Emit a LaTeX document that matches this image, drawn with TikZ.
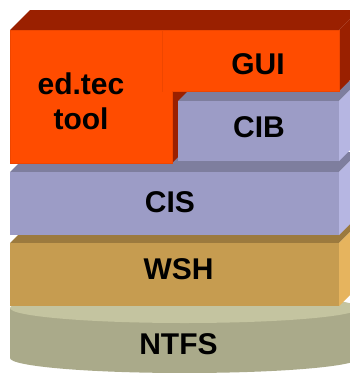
\documentclass[tikz,border=0pt]{standalone}
\usepackage{fontspec}
\setmainfont{Liberation Sans}
\definecolor{orangefront}{HTML}{FF4C00}
\definecolor{orangeedge}{HTML}{EE4600}
\definecolor{redback}{HTML}{9A2000}
\definecolor{lavfront}{HTML}{9C9CC6}
\definecolor{lavtop}{HTML}{7E7E9E}
\definecolor{lavside}{HTML}{B6B6E2}
\definecolor{tanfront}{HTML}{C69C50}
\definecolor{tantop}{HTML}{9C7A3E}
\definecolor{tanside}{HTML}{E6B45E}
\definecolor{diskcap}{HTML}{C4C4A0}
\definecolor{diskmid}{HTML}{9C9C7E}
\definecolor{diskend}{HTML}{AAAA8A}
\tikzset{
  label/.style={font=\fontsize{30}{36}\selectfont\bfseries, text=black, anchor=base, inner sep=0pt},
  orangeface/.style={fill=orangefront, draw=orangeedge, line width=0.6pt},
}
\begin{document}
\begin{tikzpicture}[x=1pt, y=-1pt]
\useasboundingbox (0,0) rectangle (350,373);
\clip (0,0) rectangle (350,373);
\fill[white] (0,0) rectangle (350,373);

% NTFS disk: shaded body, then the lighter top cap
\shade[left color=diskend, middle color=diskmid, right color=diskend]
  (10,308) -- (10,358) arc[start angle=180, end angle=360, x radius=174.5pt, y radius=15pt]
  -- (359,308) -- cycle;
\fill[diskcap] (184.5,308) ellipse[x radius=174.5pt, y radius=15pt];

% WSH slab
\fill[tantop] (10,243) -- (339,243) -- (359,223) -- (30,223) -- cycle;
\fill[tanside] (339,243) -- (359,223) -- (359,286) -- (339,306) -- cycle;
\fill[tanfront] (10,243) rectangle (339,306);

% CIS slab
\fill[lavtop] (10,172) -- (339,172) -- (359,152) -- (30,152) -- cycle;
\fill[lavside] (339,172) -- (359,152) -- (359,215) -- (339,235) -- cycle;
\fill[lavfront] (10,172) rectangle (339,235);

% ed.tec tool block
\fill[redback] (10,30) -- (172,30) -- (192,10) -- (30,10) -- cycle;
\fill[redback] (172,30) -- (192,10) -- (192,143) -- (172,163) -- cycle;
\path[orangeface] (10,30) rectangle (172,163);

% CIB block
\fill[lavtop] (178,101) -- (339,101) -- (359,81) -- (198,81) -- cycle;
\fill[lavside] (339,101) -- (359,81) -- (359,141) -- (339,161) -- cycle;
\fill[lavfront] (178,101) rectangle (339,161);

% GUI block, merged with the tool block where the two fronts meet
\fill[redback] (162,30) -- (339,30) -- (359,10) -- (182,10) -- cycle;
\fill[redback] (339,30) -- (359,10) -- (359,71) -- (339,91) -- cycle;
\path[orangeface] (162,30) rectangle (339,91);
\fill[orangefront] (163,31) rectangle (171.6,92);

% labels
\node[label] (edtec) at (81,94) {ed.tec};
\node[label] (tool) at (81,129.5) {tool};
\node[label] (gui) at (258,74) {GUI};
\node[label] (cib) at (259,137) {CIB};
\node[label] (cis) at (170,212) {CIS};
\node[label] (wsh) at (178.5,279) {WSH};
\node[label] (ntfs) at (178.5,354) {NTFS};
\end{tikzpicture}
\end{document}
